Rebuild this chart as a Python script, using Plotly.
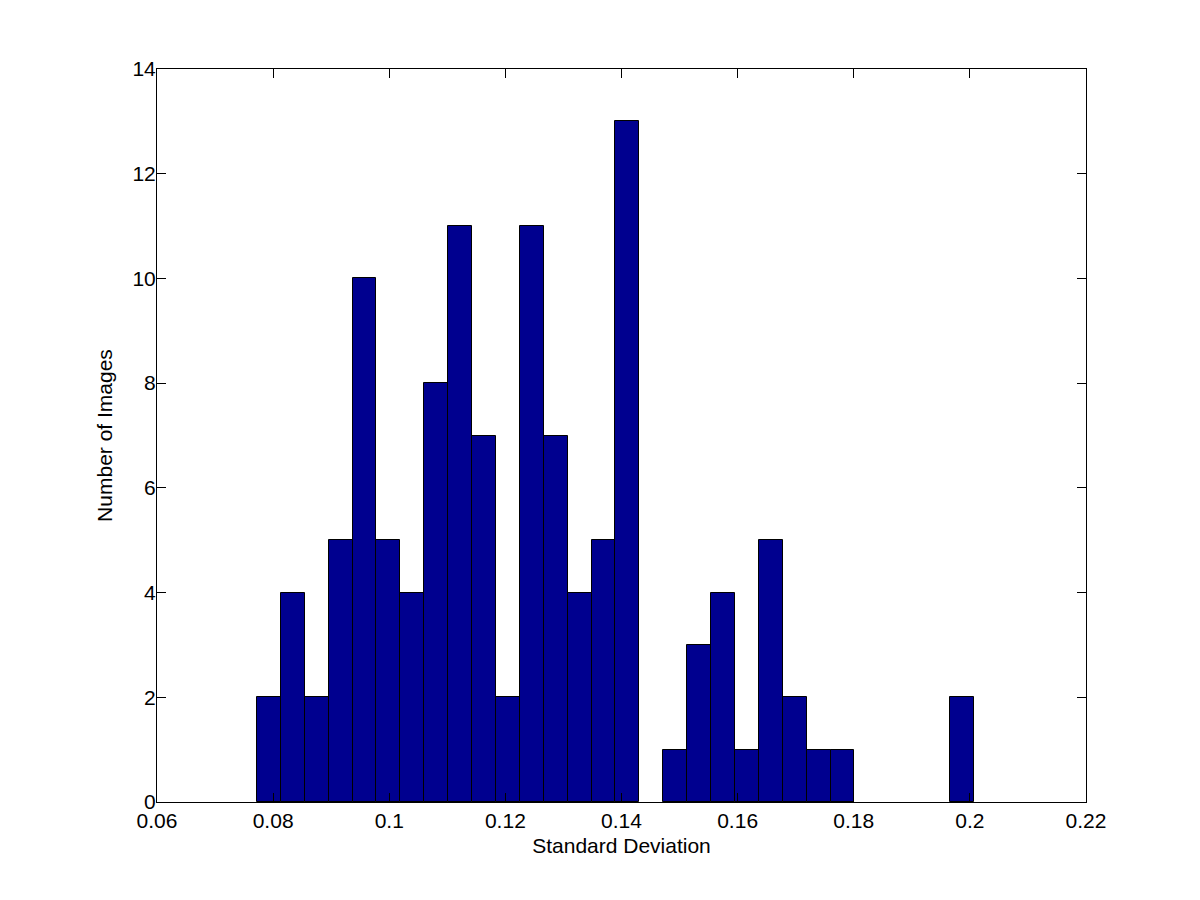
import plotly.graph_objects as go

# Histogram bin centers (Standard Deviation) and counts (Number of Images)
bin_centers = [0.07928, 0.08340, 0.08751, 0.09163, 0.09574, 0.09986, 0.10398, 0.10809,
               0.11221, 0.11632, 0.12044, 0.12456, 0.12867, 0.13279, 0.13690, 0.14102,
               0.14514, 0.14925, 0.15337, 0.15748, 0.16160, 0.16572, 0.16983, 0.17395,
               0.17806, 0.18218, 0.18630, 0.19041, 0.19453, 0.19864]
counts = [2, 4, 2, 5, 10, 5, 4, 8, 11, 7, 2, 11, 7, 4, 5, 13,
          0, 1, 3, 4, 1, 5, 2, 1, 1, 0, 0, 0, 0, 2]
bin_width = 0.004116

x_ticks = [0.06, 0.08, 0.1, 0.12, 0.14, 0.16, 0.18, 0.2, 0.22]
x_tick_labels = ["0.06", "0.08", "0.1", "0.12", "0.14", "0.16", "0.18", "0.2", "0.22"]
y_ticks = [0, 2, 4, 6, 8, 10, 12, 14]

# empty bins draw nothing
xs = [c for c, n in zip(bin_centers, counts) if n > 0]
ys = [n for n in counts if n > 0]

fig = go.Figure()
fig.add_trace(go.Bar(
    x=xs, y=ys, width=bin_width,
    marker=dict(color="#00008F", line=dict(color="black", width=1)),
    showlegend=False,
))

font = dict(family="Liberation Sans, Arial, sans-serif", size=21, color="black")

fig.update_layout(
    width=1200, height=900,
    margin=dict(l=149, r=122, t=61, b=106),
    paper_bgcolor="white", plot_bgcolor="white",
    font=font,
    bargap=0,
    xaxis=dict(
        range=[0.06, 0.22], tickvals=x_ticks, ticktext=x_tick_labels,
        ticks="inside", ticklen=9, tickwidth=1, tickcolor="black",
        showline=True, linecolor="black", linewidth=1, mirror="ticks",
        showgrid=False, zeroline=False,
        title=dict(text="Standard Deviation", standoff=7, font=font),
        tickfont=font,
    ),
    yaxis=dict(
        range=[0, 14], tickvals=y_ticks,
        ticks="inside", ticklen=9, tickwidth=1, tickcolor="black",
        showline=True, linecolor="black", linewidth=1, mirror="ticks",
        showgrid=False, zeroline=False,
        ticklabelstandoff=-4,
        title=dict(text="Number of Images", standoff=14, font=font),
        tickfont=font,
    ),
)

fig.write_html("out.html")
